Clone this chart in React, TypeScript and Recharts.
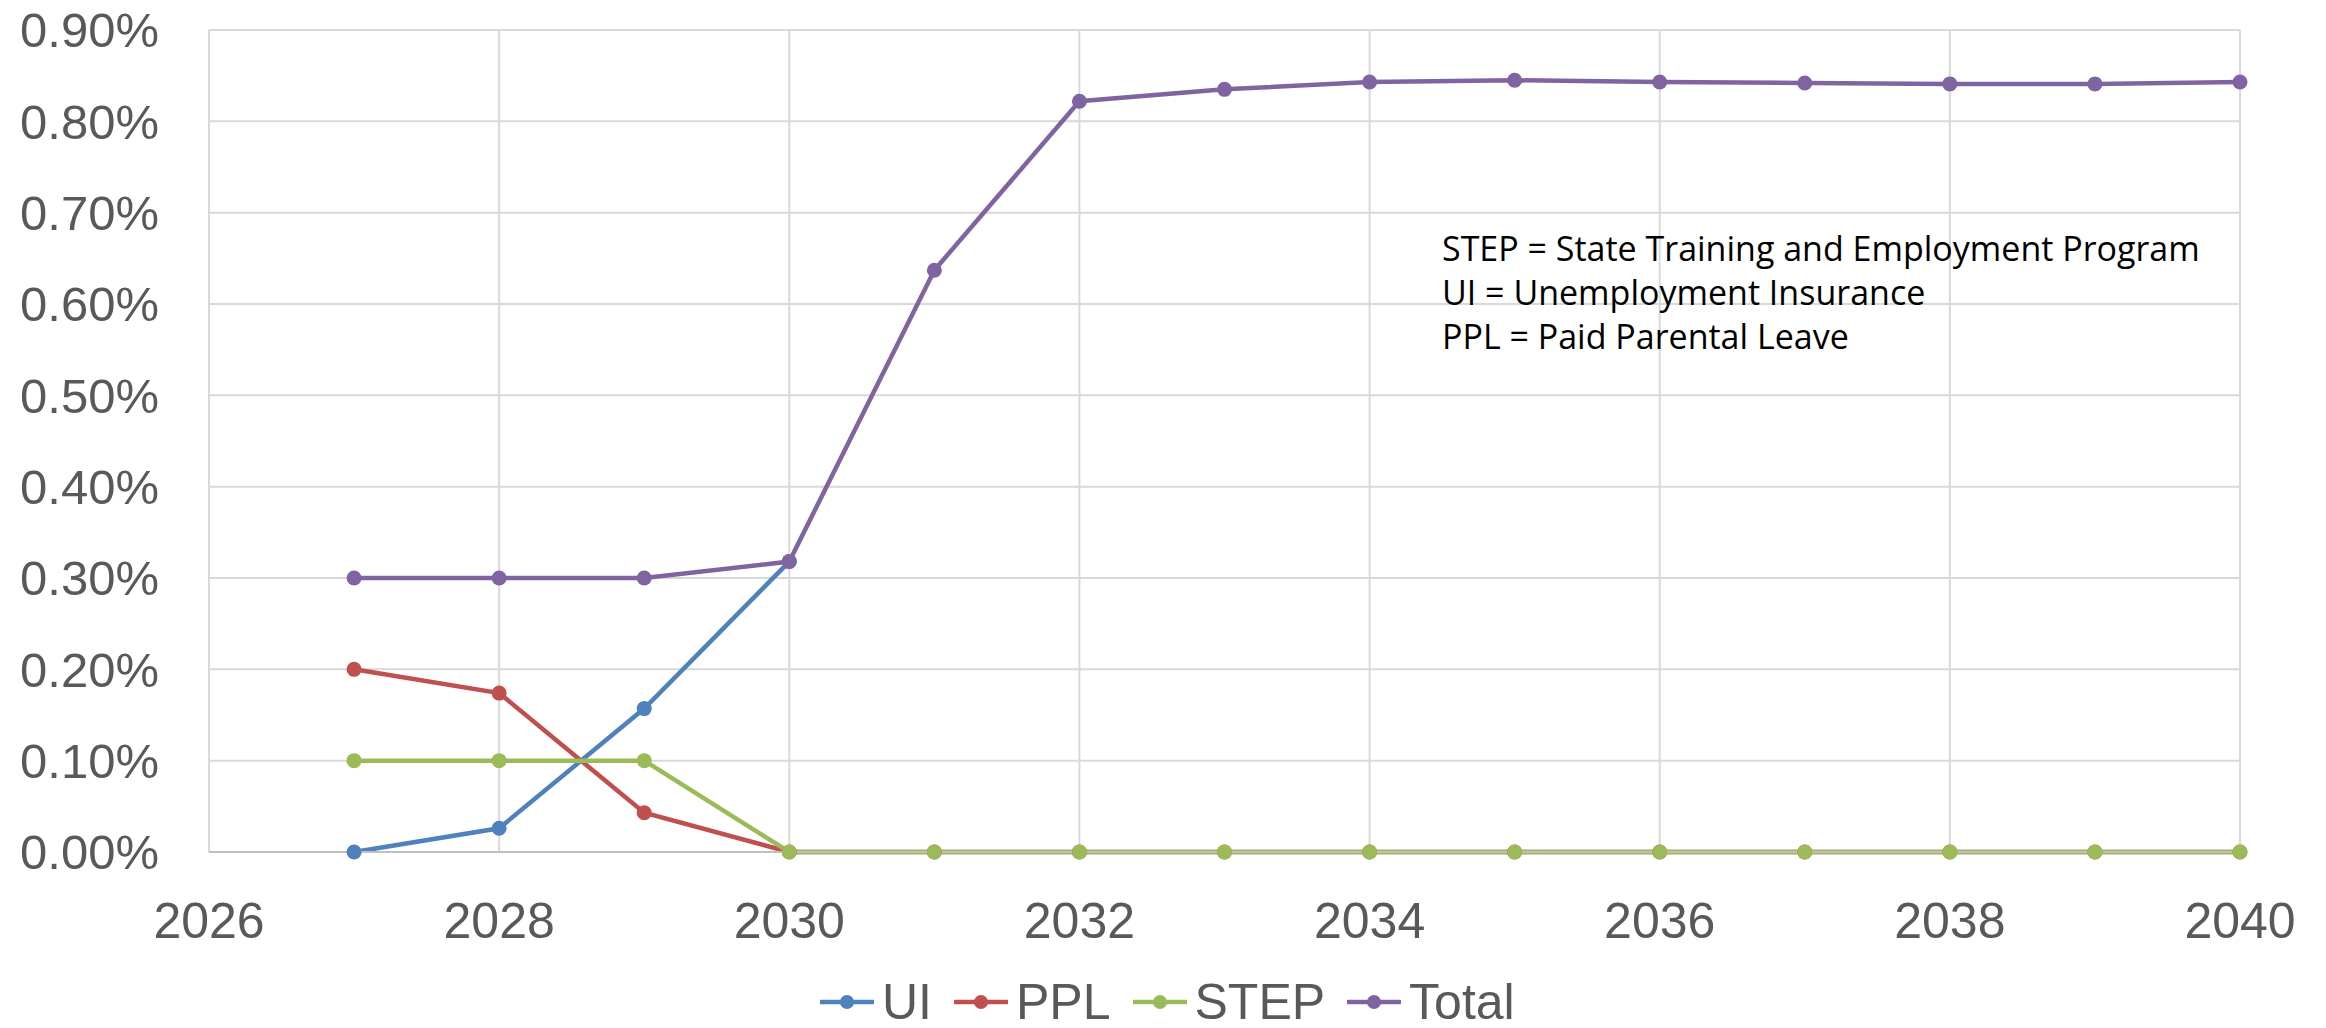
import React from 'react';
import { LineChart, Line, XAxis, YAxis, CartesianGrid, Legend } from 'recharts';

const years = [2027, 2028, 2029, 2030, 2031, 2032, 2033, 2034, 2035, 2036, 2037, 2038, 2039, 2040];
const uiValues = [0, 0.026, 0.157, 0.318, null, null, null, null, null, null, null, null, null, null];
const pplValues = [0.2, 0.174, 0.043, 0, 0, 0, 0, 0, 0, 0, 0, 0, 0, 0];
const stepValues = [0.1, 0.1, 0.1, 0, 0, 0, 0, 0, 0, 0, 0, 0, 0, 0];
const totalValues = [0.3, 0.3, 0.3, 0.318, 0.637, 0.822, 0.835, 0.843, 0.845, 0.843, 0.842, 0.841, 0.841, 0.843];

const xTicks = [2026, 2028, 2030, 2032, 2034, 2036, 2038, 2040];
const yTicks = [0, 0.1, 0.2, 0.3, 0.4, 0.5, 0.6, 0.7, 0.8, 0.9];

const seriesKeys = ['UI', 'PPL', 'STEP', 'Total'];
const seriesColors = ['#4F81BD', '#C0504D', '#9BBB59', '#8064A2'];

const notes = [
  'STEP = State Training and Employment Program',
  'UI = Unemployment Insurance',
  'PPL = Paid Parental Leave',
];

const data = years.map((year, i) => ({
  year,
  UI: uiValues[i],
  PPL: pplValues[i],
  STEP: stepValues[i],
  Total: totalValues[i],
}));

const W = 2310;
const H = 1020;
const LEGEND_H = 52;
const xTickFont = { fontFamily: 'Liberation Sans, Arial, sans-serif', fontSize: 50, fill: '#595959' };
const yTickFont = { fontFamily: 'Liberation Sans, Arial, sans-serif', fontSize: 49, fill: '#595959' };

const LegendContent = () => (
  <div
    style={{
      height: LEGEND_H,
      display: 'flex',
      alignItems: 'center',
      paddingLeft: 812,
      gap: 22,
      fontFamily: '"Liberation Sans", Arial, sans-serif',
      fontSize: 50,
      color: '#595959',
    }}
  >
    {seriesKeys.map((k, i) => (
      <div key={k} style={{ display: 'flex', alignItems: 'center', height: LEGEND_H }}>
        <svg width={54} height={20} style={{ marginRight: 8 }}>
          <line x1={1} y1={10} x2={53} y2={10} stroke={seriesColors[i]} strokeWidth={4.5} strokeLinecap="round" />
          <circle cx={27} cy={10} r={7} fill={seriesColors[i]} />
        </svg>
        <span style={{ lineHeight: 1 }}>{k}</span>
      </div>
    ))}
  </div>
);

export default function App() {
  return (
    <div style={{ position: 'relative', width: W, height: H }}>
      <LineChart width={W} height={H} data={data} margin={{ top: 22, right: 78, bottom: 0, left: 0 }}>
        <CartesianGrid stroke="#D9D9D9" strokeWidth={2} />
        <XAxis
          dataKey="year"
          type="number"
          domain={[2026, 2040]}
          ticks={xTicks}
          interval={0}
          height={124}
          tickLine={false}
          tickMargin={44}
          axisLine={{ stroke: '#BFBFBF', strokeWidth: 2 }}
          tick={xTickFont}
        />
        <YAxis
          type="number"
          domain={[0, 0.9]}
          ticks={yTicks}
          interval={0}
          width={201}
          tickLine={false}
          axisLine={false}
          tickMargin={44}
          tick={yTickFont}
          tickFormatter={(v: number) => v.toFixed(2) + '%'}
        />
        <Legend
          verticalAlign="bottom"
          content={() => <LegendContent />}
          wrapperStyle={{ left: 0, width: W, bottom: 0 }}
        />
        {seriesKeys.map((k, i) => (
          <Line
            key={k}
            type="linear"
            dataKey={k}
            stroke={seriesColors[i]}
            strokeWidth={4.5}
            dot={{ r: 7.5, fill: seriesColors[i], stroke: seriesColors[i], strokeWidth: 0 }}
            activeDot={false}
            connectNulls={false}
            isAnimationActive={false}
          />
        ))}
      </LineChart>
      <svg
        width={W}
        height={H}
        style={{ position: 'absolute', left: 0, top: 0, pointerEvents: 'none' }}
      >
        {notes.map((t, i) => (
          <text
            key={t}
            x={1434}
            y={253 + i * 44}
            fontFamily="Open Sans, sans-serif"
            fontSize={34}
            fill="#000000"
          >
            {t}
          </text>
        ))}
      </svg>
    </div>
  );
}
